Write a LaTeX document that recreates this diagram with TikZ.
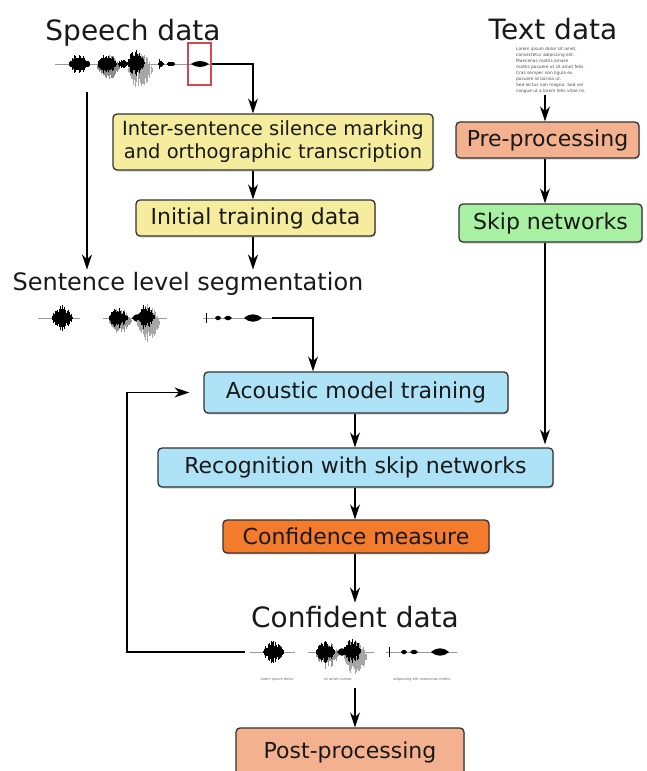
\documentclass[tikz,border=0pt]{standalone}
\usepackage{fontspec}
\setmainfont{DejaVu Sans}
\usetikzlibrary{arrows.meta,shadows}
\definecolor{cyellow}{HTML}{F5EC9E}
\definecolor{cblue}{HTML}{AEE2F6}
\definecolor{csalmon}{HTML}{F4B18F}
\definecolor{cgreen}{HTML}{A8F0A2}
\definecolor{corange}{HTML}{F47A2C}
\definecolor{cred}{HTML}{D9464E}
% solid spindle core
\newcommand\wblob[5][black]{\fill[#1] (#2-#4,#3) .. controls (#2-0.3*#4,#3-#5) and (#2+0.3*#4,#3-#5) .. (#2+#4,#3) .. controls (#2+0.3*#4,#3+#5) and (#2-0.3*#4,#3+#5) .. (#2-#4,#3) -- cycle;}
% spiky texture: [colour]{x}{y}{half width}{amplitude}
\newcommand\wspike[5][black]{%
  \foreach \k in {0,...,24}{%
    \pgfmathsetmacro\ii{-#4+2*#4*\k/24}%
    \pgfmathsetmacro\hh{#5*(1-(\ii/#4)^2)*(0.45+0.55*rnd)}%
    \draw[#1,line width=0.6pt] (#2+\ii,#3-\hh) -- (#2+\ii,#3+\hh);}}
\newcommand\wline[3]{\draw[black!40,line width=0.5pt] (#1,#3) -- (#2,#3);}
\tikzset{
  box/.style={draw=black!80, line width=1.3pt, rounded corners=4pt, inner sep=0pt, align=center,
     text=black!90, font=\fontsize{22}{26}\selectfont,
     drop shadow={shadow xshift=1pt, shadow yshift=-1.5pt, opacity=0.35}},
  arr/.style={line width=1.8pt, -{Stealth[length=15pt,width=10pt]}},
  ln/.style={line width=1.8pt},
  head/.style={inner sep=0pt, anchor=base, text=black!90, font=\fontsize{28}{32}\selectfont},
  tiny/.style={inner sep=0pt, text=black!60, font=\fontsize{3.6}{4}\selectfont},
}
\begin{document}
\begin{tikzpicture}[x=1pt,y=-1pt]
\pgfmathsetseed{11}
\useasboundingbox (0,0) rectangle (646,771);
\clip (0,0) rectangle (646,771);
% headings
\node[head] (speech) at (133,40) {Speech data};
\node[head] (textdata) at (553,39) {Text data};
\node[head, font=\fontsize{24}{28}\selectfont] (seg) at (188,290) {Sentence level segmentation};
\node[head] (confd) at (355,627) {Confident data};
% top waveform
\wline{55}{210}{64}
\wspike[black!45]{108}{67}{12}{14}
\wspike{79}{64}{11}{12}
\wblob{79}{64}{9}{7}
\wspike{107}{64}{10}{11}
\wblob{107}{64}{8}{6}
\wspike{123}{64}{5}{5}
\wspike[black!35]{140}{70}{13}{20}
\wspike{136}{63}{9}{14}
\wblob{135}{64}{7}{7}
\wspike{161}{64}{3}{3}
\wspike{171}{64}{4}{3}
\wblob{200}{64}{9}{4}
\draw[black,line width=0.6pt] (159,59) -- (159,69);
\node[draw=cred, line width=1.2pt, minimum width=23pt, minimum height=42pt, inner sep=0pt] (redbox) at (199.5,64) {};
\coordinate (w0) at (87,92);
\coordinate (cx) at (253,0);
% sentence waveforms
\wline{38}{80}{318}
\wspike{62}{318}{11}{13}
\wblob{62}{318}{8}{7}
\wline{103}{167}{318}
\wspike[black!40]{120}{321}{12}{14}
\wspike{118}{318}{10}{11}
\wblob{118}{318}{8}{6}
\wblob{137}{318}{5}{5}
\wspike[black!35]{148}{323}{12}{20}
\wspike{146}{317}{9}{14}
\wblob{145}{318}{7}{7}
\wline{203}{272}{318}
\draw[black,line width=0.6pt] (206,313) -- (206,323);
\wblob{218}{318}{3}{3}
\wblob{228}{318}{4}{3}
\wblob{253}{318}{9}{5}
\coordinate (s3e) at (272,318);
% confident waveforms
\wline{250}{295}{652}
\wspike{273}{652}{11}{13}
\wblob{273}{652}{8}{7}
\wline{308}{374}{652}
\wspike[black!40]{327}{655}{12}{14}
\wspike{325}{652}{10}{11}
\wblob{325}{652}{8}{6}
\wblob{342}{652}{5}{5}
\wspike[black!35]{355}{657}{12}{20}
\wspike{352}{651}{9}{14}
\wblob{351}{652}{7}{7}
\wline{386}{457}{652}
\draw[black,line width=0.6pt] (389,647) -- (389,657);
\wblob{404}{652}{3}{3}
\wblob{414}{652}{4}{3}
\wblob{440}{652}{9}{5}
\coordinate (cw0) at (245,652);
\node[tiny] (l1) at (277,679) {lorem ipsum dolor};
\node[tiny] (l2) at (338,679) {sit amet consec};
\node[tiny] (l3) at (422,679) {adipiscing elit maecenas mattis};
\coordinate (cb) at (355,688);
% lorem ipsum text
\node[inner sep=0pt, align=left, text=black!70, font=\fontsize{4.3}{6}\selectfont] (lorem) at (551,70)
 {Lorem ipsum dolor sit amet,\\ consectetur adipiscing elit.\\ Maecenas mattis ornare\\ mattis posuere ut sit amet felis.\\ Cras semper non ligula eu\\ posuere id lacinia ut.\\ Sed lectus non magna. Sed vel\\ congue ut a lorem felis vitae mi.};
% boxes
\node[box, fill=cyellow, minimum width=320pt, minimum height=56pt, font=\fontsize{19.5}{23}\selectfont] (inter) at (273,142) {Inter-sentence silence marking\\and orthographic transcription};
\node[box, fill=cyellow, minimum width=239pt, minimum height=36pt] (init) at (255.5,218) {Initial training data};
\node[box, fill=csalmon, minimum width=183pt, minimum height=36pt] (pre) at (547.5,140) {Pre-processing};
\node[box, fill=cgreen, minimum width=183pt, minimum height=38pt] (skip) at (550.5,223) {Skip networks};
\node[box, fill=cblue, minimum width=304pt, minimum height=41pt] (acou) at (356,392.5) {Acoustic model training};
\node[box, fill=cblue, minimum width=395pt, minimum height=39pt] (recog) at (355.5,467.5) {Recognition with skip networks};
\node[box, fill=corange, minimum width=266pt, minimum height=33pt] (conf) at (356,536.5) {Confidence measure};
\node[box, fill=csalmon, minimum width=228pt, minimum height=48pt] (post) at (350,752) {Post-processing};
% connectors
\draw[arr] (redbox.east) -| (inter.north -| cx);
\draw[arr] (inter.south -| cx) -- (init.north -| cx);
\draw[arr] (init.south -| cx) -- ([yshift=2pt]seg.north -| cx);
\draw[arr] (w0) -- ([yshift=2pt]w0 |- seg.north);
\draw[arr] (s3e) -| (acou.north -| 313,0);
\draw[arr] ([yshift=-2pt]lorem.south -| 545,0) -- (pre.north -| 545,0);
\draw[arr] (pre.south -| 545,0) -- (skip.north -| 545,0);
\draw[arr] (skip.south -| 545,0) -- ([yshift=3pt]recog.north -| 545,0);
\draw[arr] (acou.south -| 355,0) -- (recog.north -| 355,0);
\draw[arr] (recog.south -| 355,0) -- (conf.north -| 355,0);
\draw[arr] (conf.south -| 355,0) -- ([yshift=3pt]confd.north -| 355,0);
\draw[ln, -{Stealth[length=15pt,width=10pt]}] (cw0) -- (127,652) |- ([xshift=-14pt]acou.west);
\draw[arr] (cb) -- (post.north -| 355,0);
\end{tikzpicture}
\end{document}
